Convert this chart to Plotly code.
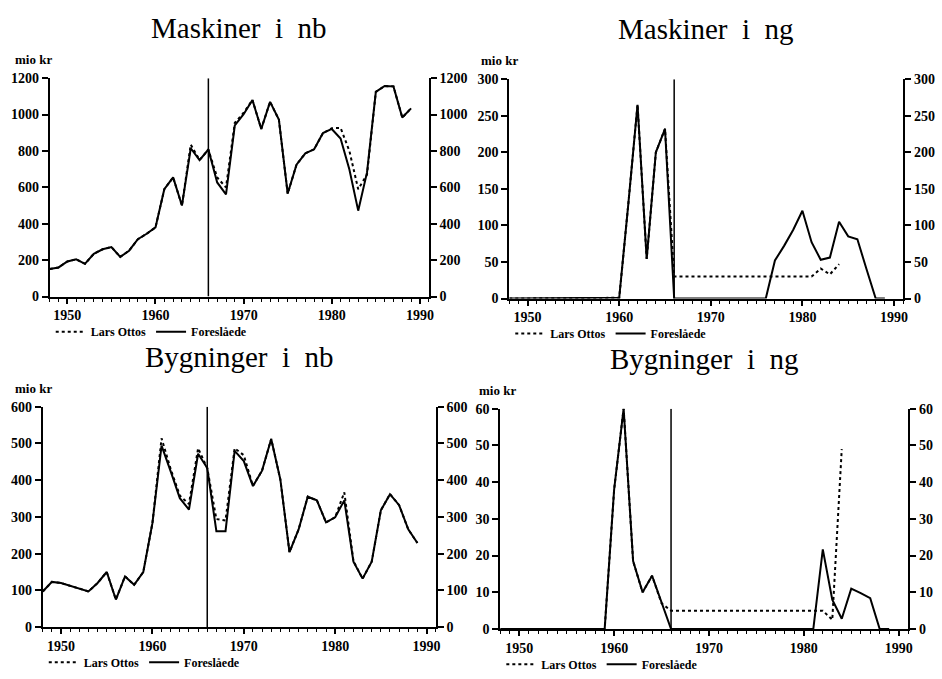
import plotly.graph_objects as go

years = list(range(1948, 1990))

# Maskiner i nb
mask_nb_foreslaaede = [152, 160, 193, 205, 180, 235, 260, 272, 218, 252,
                       315, 345, 380, 590, 655, 500, 815, 750, 808, 627,
                       562, 940, 1002, 1080, 921, 1070, 972, 566, 725, 787,
                       809, 898, 921, 868, 698, 472, 682, 1125, 1157, 1155,
                       984, 1034]
mask_nb_lars = [152, 160, 193, 205, 180, 235, 260, 272, 218, 252,
                315, 345, 380, 590, 655, 500, 835, 750, 808, 654,
                600, 955, 1010, 1080, 921, 1070, 972, 566, 725, 787,
                809, 898, 925, 927, 800, 590, 670, 1125, 1157, 1155,
                984, 1034]

# Maskiner i ng
mask_ng_foreslaaede = [0, 0, 0, 0, 0, 0, 0, 0, 0, 0,
                       0.5, 1, 1, 130, 265, 54, 200, 232, 0, 0,
                       0, 0, 0, 0, 0, 0, 0, 0, 0, 52,
                       72, 94, 120, 77, 53, 56, 105, 85, 81, 40,
                       0, 0]
mask_ng_lars = [0, 0, 0, 0, 0, 0, 0, 0, 0, 0,
                0.5, 1, 1, 130, 265, 54, 200, 232, 30, 30,
                30, 30, 30, 30, 30, 30, 30, 30, 30, 30,
                30, 30, 30, 30, 41, 33, 47, None, None, None,
                None, None]

# Bygninger i nb
byg_nb_foreslaaede = [97, 123, 120, 112, 104, 97, 120, 150, 75, 138,
                      115, 150, 283, 494, 424, 351, 320, 472, 433, 261,
                      261, 480, 452, 384, 426, 512, 402, 204, 266, 355,
                      345, 285, 299, 345, 178, 132, 178, 318, 362, 332,
                      266, 229]
byg_nb_lars = [97, 123, 120, 112, 104, 97, 120, 150, 75, 138,
               115, 150, 283, 514, 430, 358, 335, 487, 433, 294,
               290, 487, 468, 384, 426, 512, 402, 204, 266, 355,
               345, 285, 299, 367, 180, 132, 178, 318, 362, 332,
               266, 229]

# Bygninger i ng
byg_ng_foreslaaede = [0, 0, 0, 0, 0, 0, 0, 0, 0, 0,
                      0, 0, 38, 60, 18.5, 10, 14.5, 7, 0, 0,
                      0, 0, 0, 0, 0, 0, 0, 0, 0, 0,
                      0, 0, 0, 0, 21.7, 8, 2.8, 11, 9.8, 8.4,
                      0, 0]
byg_ng_lars = [0, 0, 0, 0, 0, 0, 0, 0, 0, 0,
               0, 0, 38, 60, 18.5, 10, 14.5, 7, 5, 5,
               5, 5, 5, 5, 5, 5, 5, 5, 5, 5,
               5, 5, 5, 5, 5, 2.5, 49, None, None, None,
               None, None]

titles = ["Maskiner\u00a0 i\u00a0 nb", "Maskiner\u00a0 i\u00a0 ng",
          "Bygninger\u00a0 i\u00a0 nb", "Bygninger\u00a0 i\u00a0 ng"]
y_max = [1200, 300, 600, 60]
y_step = [200, 50, 100, 10]
x_ticks = [1950, 1960, 1970, 1980, 1990]
split_year = 1966
unit_label = "mio kr"
series_names = ["Lars Ottos", "Foreslåede"]

W, H = 942, 679


def fx(px):
    return px / W


def fy(py):
    return 1 - py / H


# plot boxes in pixels: left, right, top, bottom
boxes = [(50, 431, 73, 297), (512, 908, 74, 299),
         (43, 438, 410, 636), (503, 913, 412, 638)]
unit_x = [13, 482, 13, 480]

data = [(mask_nb_lars, mask_nb_foreslaaede), (mask_ng_lars, mask_ng_foreslaaede),
        (byg_nb_lars, byg_nb_foreslaaede), (byg_ng_lars, byg_ng_foreslaaede)]

tick_font = dict(family="Liberation Serif", size=14, color="black", weight="bold")

fig = go.Figure()
layout = {}
annotations = []
shapes = []

for i in range(1, 5):
    lars, fore = data[i - 1]
    xa = "x" if i == 1 else f"x{i}"
    ya = "y" if i == 1 else f"y{i}"
    yr = f"y{i + 4}"
    leg = "legend" if i == 1 else f"legend{i}"
    fig.add_trace(go.Scatter(x=years, y=lars, name=series_names[0], mode="lines",
                             line=dict(color="black", width=2, dash="dot"),
                             xaxis=xa, yaxis=ya, legend=leg))
    fig.add_trace(go.Scatter(x=years, y=fore, name=series_names[1], mode="lines",
                             line=dict(color="black", width=2),
                             xaxis=xa, yaxis=ya, legend=leg))
    fig.add_trace(go.Scatter(x=[years[0]], y=[0], mode="markers",
                             marker=dict(opacity=0), xaxis=xa, yaxis=yr,
                             showlegend=False, hoverinfo="skip"))
    l, r, t, b = boxes[i - 1]
    xkey = "xaxis" if i == 1 else f"xaxis{i}"
    ykey = "yaxis" if i == 1 else f"yaxis{i}"
    yrkey = f"yaxis{i + 4}"
    layout[xkey] = dict(domain=[fx(l), fx(r)], anchor=ya, range=[1948, 1991],
                        tickvals=x_ticks, ticks="outside", ticklen=5, tickwidth=1.5,
                        tickcolor="black", showline=True, linecolor="black",
                        linewidth=2, showgrid=False, zeroline=False,
                        tickfont=tick_font,
                        minor=dict(dtick=1, ticks="outside", ticklen=3,
                                   tickcolor="black", tickwidth=1, showgrid=False))
    yticks = list(range(0, y_max[i - 1] + 1, y_step[i - 1]))
    common_y = dict(domain=[fy(b), fy(t)], range=[0, y_max[i - 1]], tickvals=yticks,
                    ticks="outside", ticklen=6, tickwidth=1.5, tickcolor="black",
                    showline=True, linecolor="black", linewidth=2,
                    showgrid=False, zeroline=False, tickfont=tick_font)
    layout[ykey] = dict(anchor=xa, **common_y)
    layout[yrkey] = dict(anchor=xa, overlaying=ya, side="right", **common_y)
    # legend
    layout[leg] = dict(x=fx(l + 1), y=fy(b + 36), xanchor="left", yanchor="middle",
                       orientation="h", itemwidth=30, bgcolor="rgba(0,0,0,0)",
                       font=dict(family="Liberation Serif", size=12, color="black",
                                 weight="bold"),
                       tracegroupgap=0)
    # title
    annotations.append(dict(text=titles[i - 1], x=fx((l + r) / 2), y=fy(t - 51),
                            xref="paper", yref="paper", xanchor="center",
                            yanchor="middle", showarrow=False,
                            font=dict(family="Liberation Serif", size=29,
                                      color="black")))
    annotations.append(dict(text=unit_label, x=fx(unit_x[i - 1]), y=fy(t - 19),
                            xref="paper", yref="paper", xanchor="left",
                            yanchor="middle", showarrow=False,
                            font=dict(family="Liberation Serif", size=13,
                                      color="black", weight="bold")))
    shapes.append(dict(type="line", xref=xa, yref=ya, x0=split_year, x1=split_year,
                       y0=0, y1=y_max[i - 1], line=dict(color="black", width=1.5),
                       layer="above"))

fig.update_layout(width=W, height=H, margin=dict(l=0, r=0, t=0, b=0),
                  paper_bgcolor="white", plot_bgcolor="white",
                  showlegend=True, annotations=annotations, shapes=shapes,
                  **layout)

fig.write_html("out.html")
